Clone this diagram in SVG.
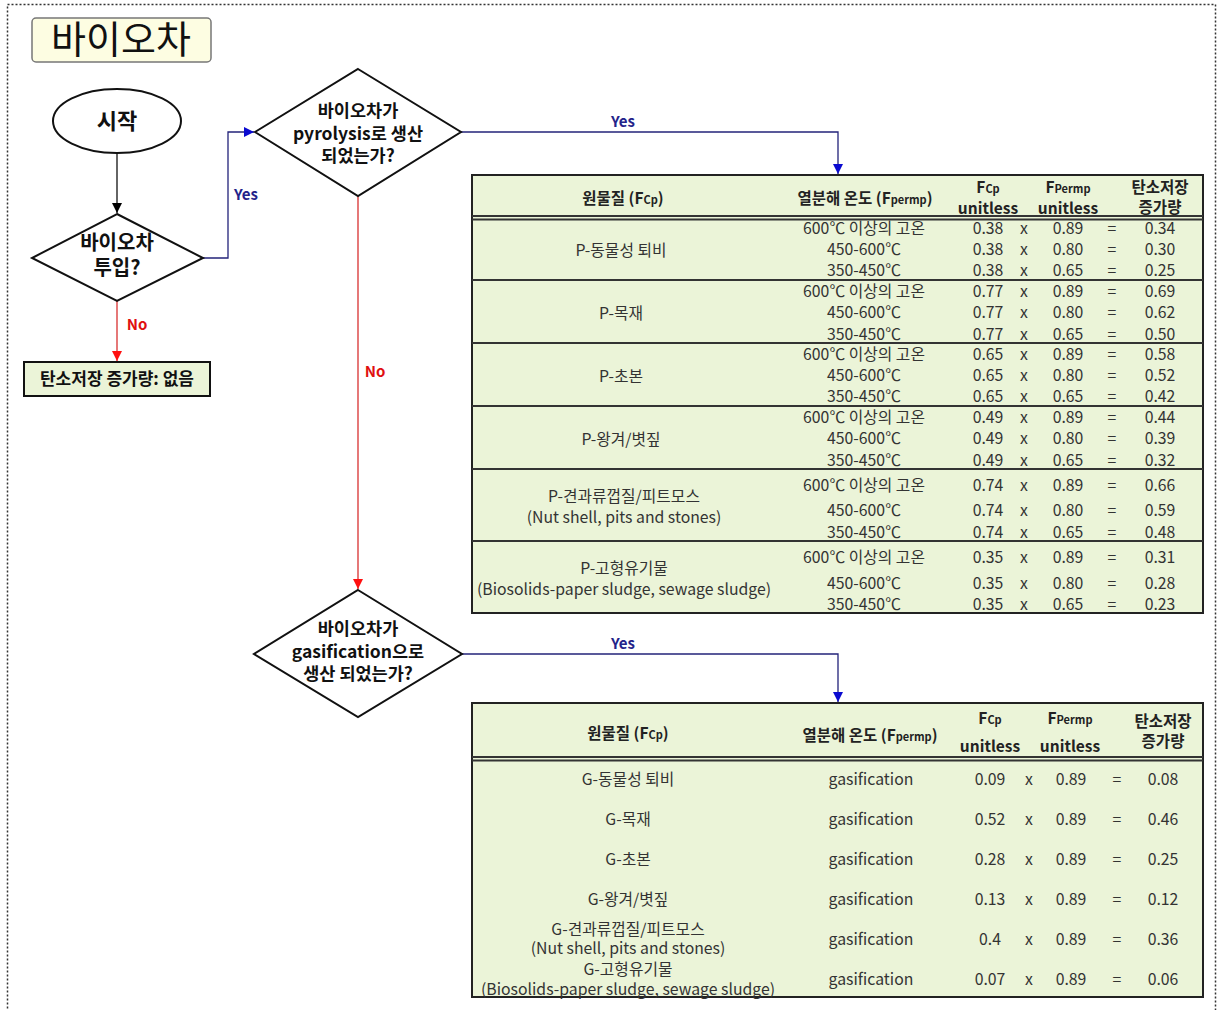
<svg xmlns="http://www.w3.org/2000/svg" width="1218" height="1010" viewBox="0 0 1218 1010">
  <defs>
    <style>
      .f { font-family: "Noto Sans CJK KR", "Noto Sans", "Liberation Sans", sans-serif; }
      .flow { font-family: "Noto Sans CJK KR", "Noto Sans", sans-serif; font-weight: 700; fill: #111; text-anchor: middle; }
      .shape { fill: #fff; stroke: #111; stroke-width: 2; }
      .tbl { fill: #ebf4d8; stroke: #222; stroke-width: 2; }
      .sep { stroke: #333; stroke-width: 2; }
      .cell { font-family: "Noto Sans CJK KR", "Noto Sans", sans-serif; font-size: 15.8px; fill: #333; text-anchor: middle; }
      .hd { font-family: "Noto Sans CJK KR", "Noto Sans", sans-serif; font-size: 15.5px; font-weight: 700; fill: #222; text-anchor: middle; }
      .sub { font-size: 11px; }
      .lblY { font-family: "Noto Sans CJK KR", "Noto Sans", sans-serif; font-size: 15px; font-weight: 700; fill: #23238a; text-anchor: middle; }
      .lblN { font-family: "Noto Sans CJK KR", "Noto Sans", sans-serif; font-size: 15px; font-weight: 700; fill: #e01010; text-anchor: middle; }
      .cK { fill: none; stroke: #111; stroke-width: 1.3; }
      .cB { fill: none; stroke: #23237a; stroke-width: 1.3; }
      .cR { fill: none; stroke: #d83030; stroke-width: 1.3; }
    </style>
    <marker id="arrK" markerWidth="12" markerHeight="12" refX="10" refY="5" orient="auto" markerUnits="userSpaceOnUse">
      <path d="M0,0 L10,5 L0,10 Z" fill="#000"/>
    </marker>
    <marker id="arrB" markerWidth="12" markerHeight="12" refX="10" refY="5" orient="auto" markerUnits="userSpaceOnUse">
      <path d="M0,0 L10,5 L0,10 Z" fill="#0a0ad0"/>
    </marker>
    <marker id="arrR" markerWidth="12" markerHeight="12" refX="10" refY="5" orient="auto" markerUnits="userSpaceOnUse">
      <path d="M0,0 L10,5 L0,10 Z" fill="#ff1010"/>
    </marker>
  </defs>

  <rect width="1218" height="1010" fill="#fff"/>
  <!-- dotted page frame -->
  <rect x="7.5" y="4.5" width="1208" height="1010" fill="none" stroke="#333" stroke-width="1.5" stroke-dasharray="2 2"/>

  <!-- title -->
  <g id="title">
    <rect x="32" y="18" width="179" height="44" rx="4" fill="#fdfde2" stroke="#777" stroke-width="1.5"/>
    <text x="121" y="53" class="f" font-size="38" text-anchor="middle" fill="#111">바이오차</text>
  </g>

  <!-- connectors -->
  <g id="connectors">
    <path class="cK" d="M117,153 V213" marker-end="url(#arrK)"/>
    <path class="cB" d="M203,258 H228 V132 H254" marker-end="url(#arrB)"/>
    <path class="cR" d="M117,301 V361" marker-end="url(#arrR)"/>
    <path class="cB" d="M461,132 H838 V174" marker-end="url(#arrB)"/>
    <path class="cR" d="M358,196 V589" marker-end="url(#arrR)"/>
    <path class="cB" d="M462,654 H838 V702" marker-end="url(#arrB)"/>
    <text x="246" y="200" class="lblY">Yes</text>
    <text x="137" y="330" class="lblN">No</text>
    <text x="623" y="127" class="lblY">Yes</text>
    <text x="375" y="377" class="lblN">No</text>
    <text x="623" y="649" class="lblY">Yes</text>
  </g>

  <!-- start -->
  <g id="start">
    <ellipse cx="117" cy="121" rx="64" ry="32" class="shape"/>
    <text x="117" y="129" class="flow" font-size="22">시작</text>
  </g>

  <!-- decision: input? -->
  <g id="dec-input">
    <polygon points="117,214 203,258 117,301 32,258" class="shape"/>
    <text x="117" y="250" class="flow" font-size="20">바이오차</text>
    <text x="117" y="275" class="flow" font-size="20">투입?</text>
  </g>

  <!-- result: none -->
  <g id="res-none">
    <rect x="24" y="362" width="186" height="34" fill="#ebf4d8" stroke="#111" stroke-width="2"/>
    <text x="117" y="385" class="flow" font-size="17">탄소저장 증가량: 없음</text>
  </g>

  <!-- decision: pyrolysis -->
  <g id="dec-pyro">
    <polygon points="358,69 461,132 358,196 255,132" class="shape"/>
    <text x="358" y="117" class="flow" font-size="17.5">바이오차가</text>
    <text x="358" y="140" class="flow" font-size="17.5">pyrolysis로 생산</text>
    <text x="358" y="162" class="flow" font-size="17.5">되었는가?</text>
  </g>

  <!-- decision: gasification -->
  <g id="dec-gas">
    <polygon points="358,590 462,654 358,717 254,654" class="shape"/>
    <text x="358" y="635" class="flow" font-size="17.5">바이오차가</text>
    <text x="358" y="658" class="flow" font-size="17.5">gasification으로</text>
    <text x="358" y="680" class="flow" font-size="17.5">생산 되었는가?</text>
  </g>

  <!-- table: pyrolysis factors -->
  <g id="tbl-pyro">
    <rect x="472" y="175" width="731" height="438" class="tbl"/>
    <line x1="472" y1="216" x2="1203" y2="216" class="sep"/>
    <line x1="472" y1="219.5" x2="1203" y2="219.5" class="sep" stroke-width="1.5"/>
    <line x1="472" y1="280" x2="1203" y2="280" class="sep"/>
    <line x1="472" y1="343" x2="1203" y2="343" class="sep"/>
    <line x1="472" y1="406" x2="1203" y2="406" class="sep" stroke="#111"/>
    <line x1="472" y1="469" x2="1203" y2="469" class="sep"/>
    <line x1="472" y1="541" x2="1203" y2="541" class="sep"/>

    <text x="623" y="204" class="hd">원물질 (F<tspan class="sub">Cp</tspan>)</text>
    <text x="865" y="204" class="hd">열분해 온도 (F<tspan class="sub">permp</tspan>)</text>
    <text x="988" y="193" class="hd">F<tspan class="sub">Cp</tspan></text>
    <text x="988" y="214" class="hd">unitless</text>
    <text x="1068" y="193" class="hd">F<tspan class="sub">Permp</tspan></text>
    <text x="1068" y="214" class="hd">unitless</text>
    <text x="1160" y="193" class="hd">탄소저장</text>
    <text x="1160" y="213" class="hd">증가량</text>

    <text x="621" y="256" class="cell">P-동물성 퇴비</text>
    <text x="621" y="319" class="cell">P-목재</text>
    <text x="621" y="382" class="cell">P-초본</text>
    <text x="621" y="445" class="cell">P-왕겨/볏짚</text>
    <text x="624" y="502" class="cell">P-견과류껍질/피트모스</text>
    <text x="624" y="523" class="cell">(Nut shell, pits and stones)</text>
    <text x="624" y="574" class="cell">P-고형유기물</text>
    <text x="624" y="595" class="cell">(Biosolids-paper sludge, sewage sludge)</text>

    <g class="cell">
      <text x="864" y="234">600℃ 이상의 고온</text>
      <text x="864" y="255">450-600℃</text>
      <text x="864" y="276">350-450℃</text>
      <text x="864" y="297">600℃ 이상의 고온</text>
      <text x="864" y="318">450-600℃</text>
      <text x="864" y="340">350-450℃</text>
      <text x="864" y="360">600℃ 이상의 고온</text>
      <text x="864" y="381">450-600℃</text>
      <text x="864" y="402">350-450℃</text>
      <text x="864" y="423">600℃ 이상의 고온</text>
      <text x="864" y="444">450-600℃</text>
      <text x="864" y="466">350-450℃</text>
      <text x="864" y="491">600℃ 이상의 고온</text>
      <text x="864" y="516">450-600℃</text>
      <text x="864" y="538">350-450℃</text>
      <text x="864" y="563">600℃ 이상의 고온</text>
      <text x="864" y="589">450-600℃</text>
      <text x="864" y="610">350-450℃</text>
    </g>

    <!-- Fcp column -->
    <g class="cell">
      <text x="988" y="234">0.38</text><text x="988" y="255">0.38</text><text x="988" y="276">0.38</text>
      <text x="988" y="297">0.77</text><text x="988" y="318">0.77</text><text x="988" y="340">0.77</text>
      <text x="988" y="360">0.65</text><text x="988" y="381">0.65</text><text x="988" y="402">0.65</text>
      <text x="988" y="423">0.49</text><text x="988" y="444">0.49</text><text x="988" y="466">0.49</text>
      <text x="988" y="491">0.74</text><text x="988" y="516">0.74</text><text x="988" y="538">0.74</text>
      <text x="988" y="563">0.35</text><text x="988" y="589">0.35</text><text x="988" y="610">0.35</text>
    </g>
    <!-- operators -->
    <g class="cell" font-size="13">
      <text x="1024" y="234">x</text><text x="1024" y="255">x</text><text x="1024" y="276">x</text>
      <text x="1024" y="297">x</text><text x="1024" y="318">x</text><text x="1024" y="340">x</text>
      <text x="1024" y="360">x</text><text x="1024" y="381">x</text><text x="1024" y="402">x</text>
      <text x="1024" y="423">x</text><text x="1024" y="444">x</text><text x="1024" y="466">x</text>
      <text x="1024" y="491">x</text><text x="1024" y="516">x</text><text x="1024" y="538">x</text>
      <text x="1024" y="563">x</text><text x="1024" y="589">x</text><text x="1024" y="610">x</text>
      <text x="1112" y="234">=</text><text x="1112" y="255">=</text><text x="1112" y="276">=</text>
      <text x="1112" y="297">=</text><text x="1112" y="318">=</text><text x="1112" y="340">=</text>
      <text x="1112" y="360">=</text><text x="1112" y="381">=</text><text x="1112" y="402">=</text>
      <text x="1112" y="423">=</text><text x="1112" y="444">=</text><text x="1112" y="466">=</text>
      <text x="1112" y="491">=</text><text x="1112" y="516">=</text><text x="1112" y="538">=</text>
      <text x="1112" y="563">=</text><text x="1112" y="589">=</text><text x="1112" y="610">=</text>
    </g>
    <!-- Fpermp column -->
    <g class="cell">
      <text x="1068" y="234">0.89</text><text x="1068" y="255">0.80</text><text x="1068" y="276">0.65</text>
      <text x="1068" y="297">0.89</text><text x="1068" y="318">0.80</text><text x="1068" y="340">0.65</text>
      <text x="1068" y="360">0.89</text><text x="1068" y="381">0.80</text><text x="1068" y="402">0.65</text>
      <text x="1068" y="423">0.89</text><text x="1068" y="444">0.80</text><text x="1068" y="466">0.65</text>
      <text x="1068" y="491">0.89</text><text x="1068" y="516">0.80</text><text x="1068" y="538">0.65</text>
      <text x="1068" y="563">0.89</text><text x="1068" y="589">0.80</text><text x="1068" y="610">0.65</text>
    </g>
    <!-- result column -->
    <g class="cell">
      <text x="1160" y="234">0.34</text><text x="1160" y="255">0.30</text><text x="1160" y="276">0.25</text>
      <text x="1160" y="297">0.69</text><text x="1160" y="318">0.62</text><text x="1160" y="340">0.50</text>
      <text x="1160" y="360">0.58</text><text x="1160" y="381">0.52</text><text x="1160" y="402">0.42</text>
      <text x="1160" y="423">0.44</text><text x="1160" y="444">0.39</text><text x="1160" y="466">0.32</text>
      <text x="1160" y="491">0.66</text><text x="1160" y="516">0.59</text><text x="1160" y="538">0.48</text>
      <text x="1160" y="563">0.31</text><text x="1160" y="589">0.28</text><text x="1160" y="610">0.23</text>
    </g>
  </g>

  <!-- table: gasification factors -->
  <g id="tbl-gas">
    <rect x="472" y="703" width="731" height="294" class="tbl"/>
    <line x1="472" y1="757" x2="1203" y2="757" class="sep"/>
    <line x1="472" y1="760.5" x2="1203" y2="760.5" class="sep" stroke-width="1.5"/>

    <text x="628" y="739" class="hd">원물질 (F<tspan class="sub">Cp</tspan>)</text>
    <text x="870" y="741" class="hd">열분해 온도 (F<tspan class="sub">permp</tspan>)</text>
    <text x="990" y="724" class="hd">F<tspan class="sub">Cp</tspan></text>
    <text x="990" y="752" class="hd">unitless</text>
    <text x="1070" y="724" class="hd">F<tspan class="sub">Permp</tspan></text>
    <text x="1070" y="752" class="hd">unitless</text>
    <text x="1163" y="727" class="hd">탄소저장</text>
    <text x="1163" y="747" class="hd">증가량</text>

    <g class="cell">
      <text x="628" y="785">G-동물성 퇴비</text>
      <text x="628" y="825">G-목재</text>
      <text x="628" y="865">G-초본</text>
      <text x="628" y="905">G-왕겨/볏짚</text>
      <text x="628" y="935">G-견과류껍질/피트모스</text>
      <text x="628" y="954">(Nut shell, pits and stones)</text>
      <text x="628" y="975">G-고형유기물</text>
      <text x="628" y="995">(Biosolids-paper sludge, sewage sludge)</text>

      <text x="871" y="785">gasification</text>
      <text x="871" y="825">gasification</text>
      <text x="871" y="865">gasification</text>
      <text x="871" y="905">gasification</text>
      <text x="871" y="945">gasification</text>
      <text x="871" y="985">gasification</text>

      <text x="990" y="785">0.09</text>
      <text x="990" y="825">0.52</text>
      <text x="990" y="865">0.28</text>
      <text x="990" y="905">0.13</text>
      <text x="990" y="945">0.4</text>
      <text x="990" y="985">0.07</text>

      <text x="1071" y="785">0.89</text>
      <text x="1071" y="825">0.89</text>
      <text x="1071" y="865">0.89</text>
      <text x="1071" y="905">0.89</text>
      <text x="1071" y="945">0.89</text>
      <text x="1071" y="985">0.89</text>

      <text x="1163" y="785">0.08</text>
      <text x="1163" y="825">0.46</text>
      <text x="1163" y="865">0.25</text>
      <text x="1163" y="905">0.12</text>
      <text x="1163" y="945">0.36</text>
      <text x="1163" y="985">0.06</text>
    </g>
    <g class="cell" font-size="13">
      <text x="1029" y="785">x</text><text x="1029" y="825">x</text><text x="1029" y="865">x</text>
      <text x="1029" y="905">x</text><text x="1029" y="945">x</text><text x="1029" y="985">x</text>
      <text x="1117" y="785">=</text><text x="1117" y="825">=</text><text x="1117" y="865">=</text>
      <text x="1117" y="905">=</text><text x="1117" y="945">=</text><text x="1117" y="985">=</text>
    </g>
  </g>
</svg>
